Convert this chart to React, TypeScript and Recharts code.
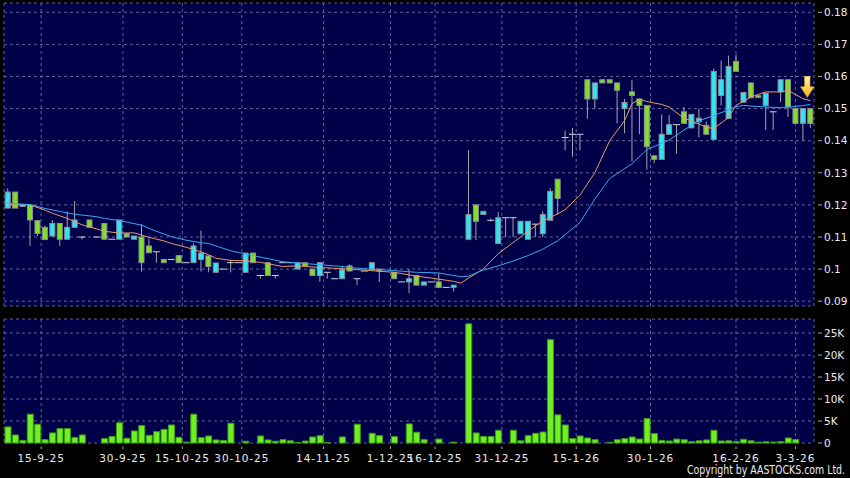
import { ComposedChart, Bar, Line, Scatter, XAxis, YAxis, CartesianGrid } from "recharts";

// one entry per trading day, 9-9-25 .. early 3-26 (null = no candle drawn)
const opens = [
  0.119, 0.124, 0.1195, 0.12, 0.1151, 0.113, 0.1103, 0.1142, 0.1093, 0.113,
  0.11, 0.1153, 0.11, 0.1142, 0.1093, 0.1093, 0.111, 0.1093, 0.11, 0.1072,
  0.1054, 0.103, 0.103, 0.1042, 0.102, 0.102, 0.103, 0.1041, 0.099, 0.1,
  0.102, 0.102, 0.099, 0.105, 0.098, 0.102, 0.098, 0.102, 0.102, 0.1,
  0.102, 0.1, 0.098, 0.099, 0.097, 0.097, 0.101, 0.097, 0.0994, 0.0997,
  0.1, null, 0.099, 0.096, 0.096, 0.098, 0.095, 0.096, 0.096, 0.0943,
  0.0943, null, 0.1093, 0.12, 0.117, 0.1152, 0.108, 0.116, 0.116, 0.111,
  0.1093, 0.114, 0.111, 0.1152, 0.128, 0.141, 0.142, 0.142, 0.159, 0.153,
  0.159, 0.159, 0.158, 0.15, 0.1552, 0.153, 0.151, 0.1353, 0.1342, 0.142,
  0.145, 0.149, 0.144, 0.1459, 0.1448, 0.1404, 0.1541, 0.1469, 0.1647, 0.152,
  0.158, 0.154, 0.151, 0.149, 0.1552, 0.159, 0.15, 0.1454, 0.15,
];
const highs = [
  0.1252, 0.124, 0.12, 0.12, 0.1151, 0.1135, 0.1153, 0.1142, 0.118, 0.1212,
  0.11, 0.1153, 0.11, 0.1142, 0.1093, 0.1153, 0.111, 0.1103, 0.114, 0.1096,
  0.1054, 0.103, 0.103, 0.1042, 0.102, 0.108, 0.112, 0.1041, 0.1019, 0.1,
  0.1028, 0.102, 0.105, 0.105, 0.098, 0.102, 0.098, 0.102, 0.102, 0.102,
  0.102, 0.1, 0.102, 0.099, 0.097, 0.101, 0.1015, 0.097, 0.0994, 0.102,
  0.1, null, 0.099, 0.096, 0.1, 0.098, 0.096, 0.096, 0.0987, 0.0943,
  0.095, null, 0.137, 0.12, 0.118, 0.1158, 0.1178, 0.116, 0.116, 0.1149,
  0.1149, 0.114, 0.118, 0.1252, 0.128, 0.1432, 0.144, 0.142, 0.159, 0.158,
  0.159, 0.159, 0.158, 0.153, 0.159, 0.153, 0.151, 0.1353, 0.1482, 0.148,
  0.145, 0.1505, 0.1482, 0.15, 0.146, 0.1624, 0.165, 0.1665, 0.1668, 0.155,
  0.158, 0.154, 0.1548, 0.149, 0.159, 0.159, 0.15, 0.15, 0.15,
];
const lows = [
  0.119, 0.119, 0.1195, 0.1072, 0.1103, 0.1092, 0.1103, 0.1072, 0.1093, 0.113,
  0.1093, 0.113, 0.11, 0.1093, 0.1093, 0.1093, 0.11, 0.1093, 0.0992, 0.1051,
  0.102, 0.102, 0.103, 0.102, 0.102, 0.102, 0.0992, 0.099, 0.099, 0.1,
  0.099, 0.102, 0.099, 0.102, 0.097, 0.098, 0.097, 0.102, 0.102, 0.1,
  0.101, 0.098, 0.096, 0.097, 0.097, 0.097, 0.0994, 0.095, 0.0994, 0.0997,
  0.096, null, 0.097, 0.096, 0.0925, 0.095, 0.095, 0.096, 0.0943, 0.0943,
  0.093, null, 0.109, 0.109, 0.117, 0.1148, 0.108, 0.11, 0.11, 0.111,
  0.1093, 0.11, 0.11, 0.1152, 0.117, 0.137, 0.135, 0.137, 0.1468, 0.15,
  0.158, 0.158, 0.1454, 0.1423, 0.1335, 0.142, 0.131, 0.133, 0.1342, 0.142,
  0.136, 0.1454, 0.144, 0.141, 0.142, 0.1404, 0.151, 0.1469, 0.1616, 0.152,
  0.1534, 0.1535, 0.1433, 0.1433, 0.152, 0.1474, 0.1454, 0.14, 0.144,
];
const closes = [
  0.124, 0.119, 0.12, 0.1153, 0.1111, 0.1092, 0.1142, 0.1093, 0.113, 0.1153,
  0.11, 0.113, 0.11, 0.1093, 0.1093, 0.1153, 0.11, 0.1103, 0.102, 0.1051,
  0.1054, 0.102, 0.103, 0.102, 0.102, 0.1072, 0.105, 0.1008, 0.1019, 0.1,
  0.102, 0.102, 0.105, 0.102, 0.098, 0.098, 0.098, 0.102, 0.102, 0.102,
  0.101, 0.098, 0.102, 0.099, 0.097, 0.0998, 0.0994, 0.097, 0.0994, 0.102,
  0.0994, null, 0.097, 0.096, 0.097, 0.095, 0.096, 0.096, 0.0943, 0.0943,
  0.095, null, 0.117, 0.1149, 0.118, 0.1152, 0.116, 0.116, 0.116, 0.1149,
  0.1149, 0.114, 0.117, 0.1242, 0.122, 0.141, 0.142, 0.142, 0.153, 0.158,
  0.158, 0.158, 0.1557, 0.1519, 0.1541, 0.151, 0.1381, 0.1342, 0.142, 0.145,
  0.145, 0.1454, 0.1482, 0.147, 0.142, 0.1616, 0.159, 0.1631, 0.1616, 0.155,
  0.1534, 0.1535, 0.1548, 0.149, 0.159, 0.1505, 0.1454, 0.15, 0.1454,
];
// volume in thousands of shares
const volumes = [
  3.66, 1.83, 0.6, 6.55, 4.27, 0.76, 2.29, 3.28, 3.28, 1.28,
  1.83, 0, 0, 1.0, 1.5, 4.6, 1.1, 2.74, 3.96, 1.75,
  2.59, 3.1, 4.1, 1.3, 0.2, 6.55, 1.22, 1.6, 0.7, 0.6,
  4.5, 0, 0.4, 0, 1.6, 0.7, 0.4, 0.76, 0.5, 0.1,
  0.45, 1.37, 1.68, 0.1, 0, 1.37, 0, 4.27, 0, 2.2,
  1.68, 0, 1.45, 0, 4.34, 2.44, 0.76, 0, 0.9, 0,
  0.2, 0, 27.1, 2.29, 1.5, 1.5, 2.9, 0, 2.9, 0.5,
  1.68, 2.2, 2.5, 23.5, 6.4, 4.1, 1.0, 1.6, 1.14, 0.76,
  0, 0.15, 0.76, 1.0, 1.37, 0.9, 5.56, 2.13, 0.6, 0.46,
  0.9, 0.76, 0.3, 0.5, 0.7, 2.9, 0.46, 0.5, 0.3, 0.84,
  0.5, 0.2, 0.3, 0.2, 0.3, 1.14, 0.76, 0, 0,
];

// moving averages as [day, value]
const maShort: [number, number][] = [
  [0, 0.12], [3, 0.12], [5, 0.1184], [6, 0.1174], [8, 0.1158], [10, 0.1138],
  [12, 0.1125], [13, 0.1118], [15, 0.1112], [17, 0.1113], [19, 0.1099], [21, 0.1088],
  [22, 0.108], [24, 0.1068], [26, 0.1054], [27, 0.1045], [28, 0.1034], [30, 0.1027],
  [32, 0.1026], [34, 0.1021], [37, 0.1008], [39, 0.101], [42, 0.1005], [46, 0.1],
  [49, 0.0995], [52, 0.099], [55, 0.0978], [57, 0.0972], [60, 0.0962], [61, 0.0956],
  [62, 0.0972], [64, 0.1], [66, 0.1048], [67, 0.1065], [69, 0.11], [70, 0.1118],
  [72, 0.115], [74, 0.1172], [75, 0.1185], [77, 0.123], [79, 0.13], [81, 0.14],
  [83, 0.1462], [84, 0.1515], [85, 0.153], [86, 0.1522], [88, 0.1513], [89, 0.1505],
  [91, 0.147], [92, 0.1462], [94, 0.1442], [95, 0.1438], [97, 0.1472], [98, 0.151],
  [100, 0.1536], [102, 0.1552], [104, 0.1552], [105, 0.1557], [107, 0.1531], [108, 0.1525],
];
const maLong: [number, number][] = [
  [0, 0.1205], [3, 0.1201], [5, 0.1189], [8, 0.1175], [9, 0.1171], [12, 0.1163],
  [13, 0.1158], [15, 0.1151], [18, 0.1137], [20, 0.1118], [22, 0.1101], [24, 0.109],
  [26, 0.1082], [27, 0.108], [30, 0.1057], [32, 0.1047], [37, 0.1023], [39, 0.1019],
  [44, 0.101], [47, 0.1003], [51, 0.0997], [55, 0.099], [58, 0.0988], [61, 0.0976],
  [62, 0.0978], [64, 0.0997], [66, 0.101], [68, 0.1025], [70, 0.1042], [72, 0.1062],
  [74, 0.1088], [77, 0.1145], [79, 0.1218], [81, 0.1282], [84, 0.1328], [86, 0.1372],
  [89, 0.1402], [91, 0.1433], [93, 0.1462], [95, 0.1478], [98, 0.1506], [99, 0.151],
  [100, 0.1508], [102, 0.1505], [104, 0.1503], [107, 0.1509], [108, 0.1513],
];

const tickDays = [4.5, 15.5, 23.5, 31.5, 42.5, 51.5, 57.5, 66.5, 76.5, 86.5, 98, 106];
const tickLabels = [
  "15-9-25", "30-9-25", "15-10-25", "30-10-25", "14-11-25", "1-12-25",
  "16-12-25", "31-12-25", "15-1-26", "30-1-26", "16-2-26", "3-3-26",
];
const priceTicks = [0.09, 0.1, 0.11, 0.12, 0.13, 0.14, 0.15, 0.16, 0.17, 0.18];
const volumeTicks = [0, 5, 10, 15, 20, 25];
const signal = [{ i: 108, price: 0.1535 }];

const lookup = (pts: [number, number][], i: number) => {
  const hit = pts.find((p) => p[0] === i);
  return hit ? hit[1] : null;
};

const rows = opens.map((o, i) => ({
  i,
  o,
  h: highs[i],
  l: lows[i],
  c: closes[i],
  v: volumes[i],
  maS: lookup(maShort, i),
  maL: lookup(maLong, i),
}));

const NAVY = "#000048";
const GRID = "#62629a";
const FONT = "DejaVu Sans";
const DAYS: [number, number] = [-0.5, 108.5];

function Candle(props: any) {
  const { x, y, width, height, payload } = props;
  if (payload.o == null) return null;
  const cx = x + width / 2;
  const top = Math.min(y, y + height);
  const span = Math.abs(height);
  const range = payload.h - payload.l;
  const py = (p: number) => (range > 0 ? top + ((payload.h - p) / range) * span : top);
  const up = payload.c > payload.o;
  const bodyTop = py(Math.max(payload.o, payload.c));
  const bodyBot = py(Math.min(payload.o, payload.c));
  return (
    <g>
      {range > 0 && (
        <line x1={cx} x2={cx} y1={py(payload.h)} y2={py(payload.l)} stroke="#a4a4ae" />
      )}
      {payload.o === payload.c ? (
        <line x1={cx - 3.5} x2={cx + 3.5} y1={bodyTop} y2={bodyTop} stroke="#d4d4dc" />
      ) : (
        <rect
          x={cx - 2.5}
          y={bodyTop}
          width={5}
          height={Math.max(1, bodyBot - bodyTop)}
          fill={up ? "#30e4f2" : "#80e026"}
          stroke="#8e8e98"
        />
      )}
    </g>
  );
}

function Arrow(props: any) {
  const { cx, cy } = props;
  const x = cx - 3;
  const pts = [
    [x - 2.7, cy - 21],
    [x + 2.7, cy - 21],
    [x + 2.7, cy - 10.5],
    [x + 6.7, cy - 10.5],
    [x, cy],
    [x - 6.7, cy - 10.5],
    [x - 2.7, cy - 10.5],
  ]
    .map((p) => p.join(","))
    .join(" ");
  return (
    <g>
      <defs>
        <linearGradient id="arrowFill" x1="0" y1="0" x2="0" y2="1">
          <stop offset="0%" stopColor="#fff7a8" />
          <stop offset="100%" stopColor="#ffb000" />
        </linearGradient>
      </defs>
      <polygon points={pts} fill="url(#arrowFill)" stroke="#f0b020" strokeWidth={0.6} />
    </g>
  );
}

function PriceTick({ x, y, payload }: any) {
  return (
    <g>
      <line x1={x + 4} x2={x + 8} y1={y} y2={y} stroke="#a8a8a8" />
      <text x={x + 10} y={y} dy="0.36em" fill="#ececec" fontSize={10.5} fontFamily={FONT}>
        {String(payload.value)}
      </text>
    </g>
  );
}

function VolumeTick({ x, y, payload }: any) {
  return (
    <g>
      <line x1={x + 4} x2={x + 8} y1={y} y2={y} stroke="#a8a8a8" />
      <text x={x + 10} y={y} dy="0.36em" fill="#ececec" fontSize={10.5} fontFamily={FONT}>
        {payload.value === 0 ? "0" : `${payload.value}K`}
      </text>
    </g>
  );
}

function DateTick({ x, y, payload }: any) {
  const k = tickDays.indexOf(payload.value);
  return (
    <g>
      <line x1={x} x2={x} y1={y + 3.5} y2={y + 6} stroke="#a8a8a8" />
      <text
        x={x}
        y={y + 18.5}
        textAnchor="middle"
        fill="#ececec"
        fontSize={10.5}
        letterSpacing={0.9}
        fontFamily={FONT}
      >
        {tickLabels[k]}
      </text>
    </g>
  );
}

export default function App() {
  return (
    <div
      style={{
        position: "absolute",
        left: 0,
        top: 0,
        width: 850,
        height: 478,
        background: "#000",
        overflow: "hidden",
      }}
    >
      <div style={{ position: "absolute", left: 0, top: 0 }}>
        <ComposedChart width={850} height={309} data={rows} margin={{ top: 3, right: 0, bottom: 3, left: 4 }}>
          <CartesianGrid stroke={GRID} strokeDasharray="3 3" fill={NAVY} fillOpacity={1} />
          <XAxis dataKey="i" type="number" domain={DAYS} ticks={tickDays} interval={0} hide />
          <YAxis
            orientation="right"
            width={36}
            domain={[0.0885, 0.1829]}
            ticks={priceTicks}
            interval={0}
            axisLine={false}
            tickLine={false}
            tickSize={0}
            tickMargin={0}
            tick={(p: any) => <PriceTick {...p} />}
          />
          <Bar
            dataKey={(d: any) => (d.o == null ? null : [d.l, d.h])}
            shape={(p: any) => <Candle {...p} />}
            isAnimationActive={false}
          />
          <Line dataKey="maS" stroke="#e69a68" strokeWidth={1} dot={false} connectNulls isAnimationActive={false} />
          <Line dataKey="maL" stroke="#3aa6ee" strokeWidth={1} dot={false} connectNulls isAnimationActive={false} />
          <Scatter data={signal} dataKey="price" shape={(p: any) => <Arrow {...p} />} isAnimationActive={false} />
        </ComposedChart>
      </div>
      <div style={{ position: "absolute", left: 0, top: 309 }}>
        <ComposedChart width={850} height={169} data={rows} margin={{ top: 10, right: 0, bottom: 0, left: 4 }}>
          <CartesianGrid stroke={GRID} strokeDasharray="3 3" fill={NAVY} fillOpacity={1} />
          <XAxis
            dataKey="i"
            type="number"
            domain={DAYS}
            ticks={tickDays}
            interval={0}
            height={35}
            axisLine={false}
            tickLine={false}
            tickSize={0}
            tickMargin={0}
            tick={(p: any) => <DateTick {...p} />}
          />
          <YAxis
            orientation="right"
            width={36}
            domain={[0, 28.2]}
            ticks={volumeTicks}
            interval={0}
            axisLine={false}
            tickLine={false}
            tickSize={0}
            tickMargin={0}
            tick={(p: any) => <VolumeTick {...p} />}
          />
          <Bar dataKey="v" fill="#6ef022" stroke="#3d9a14" barSize={6} isAnimationActive={false} />
        </ComposedChart>
      </div>
      <svg width={850} height={478} style={{ position: "absolute", left: 0, top: 0, pointerEvents: "none" }}>
        <text
          x={687}
          y={474}
          fill="#ececec"
          fontSize={12}
          fontFamily={FONT}
          textLength={158}
          lengthAdjust="spacingAndGlyphs"
        >
          Copyright by AASTOCKS.com Ltd.
        </text>
      </svg>
    </div>
  );
}
